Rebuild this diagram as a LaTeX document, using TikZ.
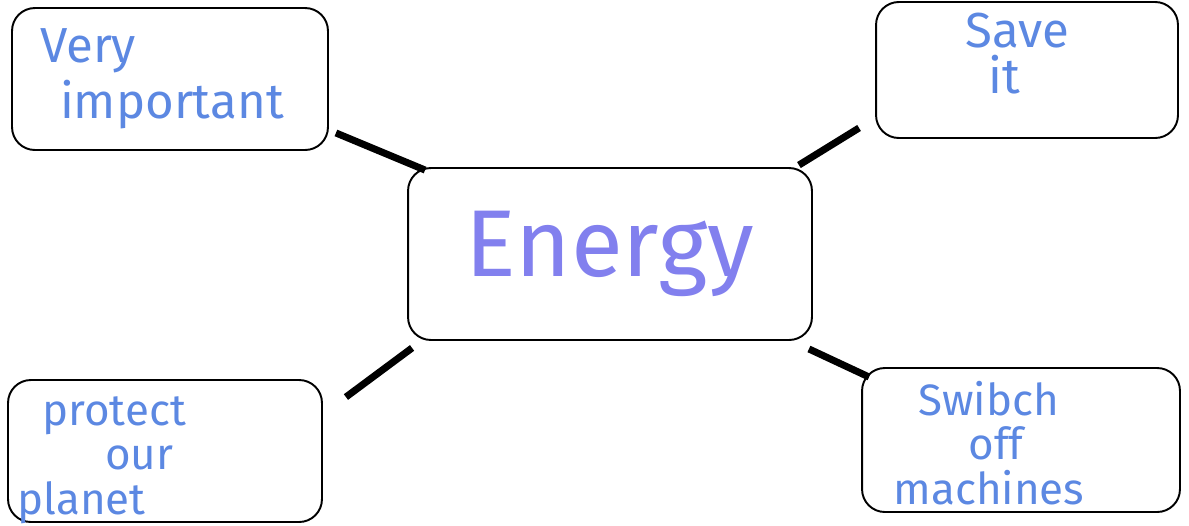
\documentclass[tikz,border=0pt]{standalone}
\usepackage{fontspec}
\setmainfont{Fira Sans}
\usetikzlibrary{positioning}
\definecolor{inkblue}{RGB}{92,136,226}
\definecolor{inkviolet}{RGB}{130,128,238}

\begin{document}
\begin{tikzpicture}[
  x=0.02cm, y=-0.02cm,
  idea/.style={draw, rounded corners=13pt, line width=1.1pt, align=center,
               font=\fontsize{28}{30}\selectfont, text=inkblue, inner sep=2pt},
  tightidea/.style={idea, font=\fontsize{25}{25.5}\selectfont},
  hub/.style={idea, font=\fontsize{54}{60}\selectfont, text=inkviolet},
  spoke/.style={line width=4pt, black},
]
  \useasboundingbox (0,0) rectangle (1189,525);

  \node[hub, minimum width=8.08cm, minimum height=3.44cm] (energy) at (610,254) {Energy};

  \node[idea, minimum width=6.32cm, minimum height=2.84cm, align=left,
        text width=5.9cm] (important) at (170,79)
    {\hspace*{0.35cm}Very\\[2pt] \hspace*{0.75cm}important};
  \node[idea, minimum width=6.04cm, minimum height=2.72cm, align=center,
        text height=1.75cm, text depth=0.83cm] (save) at (1027,70)
    {Save\hspace*{0.4cm}\\[-4pt]it\hspace*{0.9cm}};
  \node[tightidea, minimum width=6.28cm, minimum height=2.84cm, align=left,
        text width=5.9cm, text height=0.83cm, text depth=1.87cm] (planet) at (165,451)
    {\hspace*{0.5cm}protect\\\hspace*{1.75cm}our\\planet};
  \node[tightidea, minimum width=6.36cm, minimum height=2.88cm, align=left,
        text width=6cm, text height=0.87cm, text depth=1.87cm] (machines) at (1021,440)
    {\hspace*{0.95cm}Swibch\\\hspace*{1.95cm}off\\\hspace*{0.45cm}machines};

  % spokes from the hub out to each idea
  \draw[spoke] ([shift={(7,-18)}]important.south east) -- ([shift={(18,3)}]energy.north west);
  \draw[spoke] ([shift={(-14,-2)}]energy.north east) -- ([shift={(-16,-11)}]save.south west);
  \draw[spoke] ([shift={(23,18)}]planet.north east) -- ([shift={(5,7)}]energy.south west);
  \draw[spoke] ([shift={(-4,8)}]energy.south east) -- ([shift={(8,10)}]machines.north west);
\end{tikzpicture}
\end{document}
